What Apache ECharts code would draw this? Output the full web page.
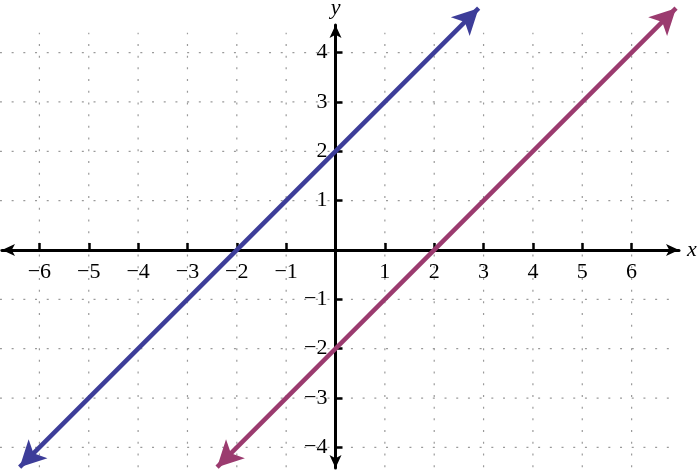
<!DOCTYPE html>
<html>
<head>
<meta charset="utf-8">
<script src="https://cdn.jsdelivr.net/npm/echarts@6/dist/echarts.min.js"></script>
<style>
html,body{margin:0;padding:0;background:#fff;}
#chart{width:700px;height:470px;}
</style>
</head>
<body>
<div id="chart"></div>
<script>
// ---- data ----
var xTickValues = [-6, -5, -4, -3, -2, -1, 1, 2, 3, 4, 5, 6];
var yTickValues = [-4, -3, -2, -1, 1, 2, 3, 4];
var xGridValues = [-6, -5, -4, -3, -2, -1, 0, 1, 2, 3, 4, 5, 6];
var yGridValues = [-4, -3, -2, -1, 0, 1, 2, 3, 4];
var gridExtentX = [-6.8, 6.8];
var gridExtentY = [-4.4, 4.4];
// line y = x + 2 (blue) and y = x - 2 (purple): arrow tip endpoints
var blueLine = [[-6.4, -4.4], [2.9, 4.9]];
var purpleLine = [[-2.4, -4.4], [6.9, 4.9]];

function fmt(v) { return v < 0 ? '\u2212' + Math.abs(v) : String(v); }

var chart = echarts.init(document.getElementById('chart'), null, {renderer: 'canvas'});

var serif = '"Liberation Serif", "Times New Roman", serif';

function gridRender(vertical) {
  return function (params, api) {
    var v = vertical ? api.value(0) : api.value(1);
    var p1, p2;
    if (vertical) {
      p1 = api.coord([v, gridExtentY[0]]);
      p2 = api.coord([v, gridExtentY[1]]);
    } else {
      p1 = api.coord([gridExtentX[0], v]);
      p2 = api.coord([gridExtentX[1], v]);
    }
    return {
      type: 'line',
      shape: {x1: p1[0], y1: p1[1], x2: p2[0], y2: p2[1]},
      style: {stroke: '#9a9a9a', lineWidth: 1.2, lineDash: [2, 9.7]}
    };
  };
}

function labelRender(isX) {
  return function (params, api) {
    var v = isX ? api.value(0) : api.value(1);
    var p = api.coord(isX ? [v, 0] : [0, v]);
    return {
      type: 'text',
      x: isX ? p[0] : p[0] - 8,
      y: isX ? p[1] + 11 : p[1],
      style: {
        text: fmt(v),
        fill: '#000',
        fontFamily: serif,
        fontSize: 22,
        align: isX ? 'center' : 'right',
        verticalAlign: isX ? 'top' : 'middle'
      }
    };
  };
}

var option = {
  backgroundColor: '#ffffff',
  animation: false,
  grid: {left: 2, right: 21, top: 25, bottom: 2, outerBoundsMode: 'none', containLabel: false},
  xAxis: {
    type: 'value',
    min: -6.758, max: 6.960,
    z: 3,
    splitLine: {show: false},
    axisLine: {
      show: true, onZero: true,
      symbol: ['arrow', 'arrow'], symbolSize: [9, 13],
      lineStyle: {color: '#000', width: 3}
    },
    axisTick: {show: true, inside: true, length: 7, customValues: xTickValues,
      lineStyle: {color: '#000', width: 2.5}},
    axisLabel: {show: false},
    name: 'x', nameLocation: 'end', nameGap: 8,
    nameTextStyle: {color: '#000', fontFamily: serif, fontStyle: 'italic', fontSize: 22}
  },
  yAxis: {
    type: 'value',
    min: -4.417, max: 4.559,
    z: 3,
    splitLine: {show: false},
    axisLine: {
      show: true, onZero: true,
      symbol: ['arrow', 'arrow'], symbolSize: [9, 13],
      lineStyle: {color: '#000', width: 3}
    },
    axisTick: {show: true, inside: true, length: 7, customValues: yTickValues,
      lineStyle: {color: '#000', width: 2.5}},
    axisLabel: {show: false},
    name: 'y', nameLocation: 'end', nameGap: 6,
    nameTextStyle: {color: '#000', fontFamily: serif, fontStyle: 'italic', fontSize: 22}
  },
  series: [
    {
      type: 'custom', coordinateSystem: 'cartesian2d', z: 0, clip: false, silent: true,
      data: xGridValues.map(function (v) { return [v, 0]; }),
      renderItem: gridRender(true)
    },
    {
      type: 'custom', coordinateSystem: 'cartesian2d', z: 0, clip: false, silent: true,
      data: yGridValues.map(function (v) { return [0, v]; }),
      renderItem: gridRender(false)
    },
    {
      type: 'custom', coordinateSystem: 'cartesian2d', z: 4, clip: false, silent: true,
      data: xTickValues.map(function (v) { return [v, 0]; }),
      renderItem: labelRender(true)
    },
    {
      type: 'custom', coordinateSystem: 'cartesian2d', z: 4, clip: false, silent: true,
      data: yTickValues.map(function (v) { return [0, v]; }),
      renderItem: labelRender(false)
    },
    {
      type: 'lines', coordinateSystem: 'cartesian2d', z: 5, clip: false, silent: true,
      symbol: ['arrow', 'arrow'], symbolSize: [[20, 26], [20, 26]],
      lineStyle: {color: '#3d3d99', width: 4.5, opacity: 1},
      data: [{coords: blueLine}]
    },
    {
      type: 'lines', coordinateSystem: 'cartesian2d', z: 5, clip: false, silent: true,
      symbol: ['arrow', 'arrow'], symbolSize: [[20, 26], [20, 26]],
      lineStyle: {color: '#9b3b6f', width: 4.5, opacity: 1},
      data: [{coords: purpleLine}]
    }
  ]
};
chart.setOption(option);
</script>
</body>
</html>
